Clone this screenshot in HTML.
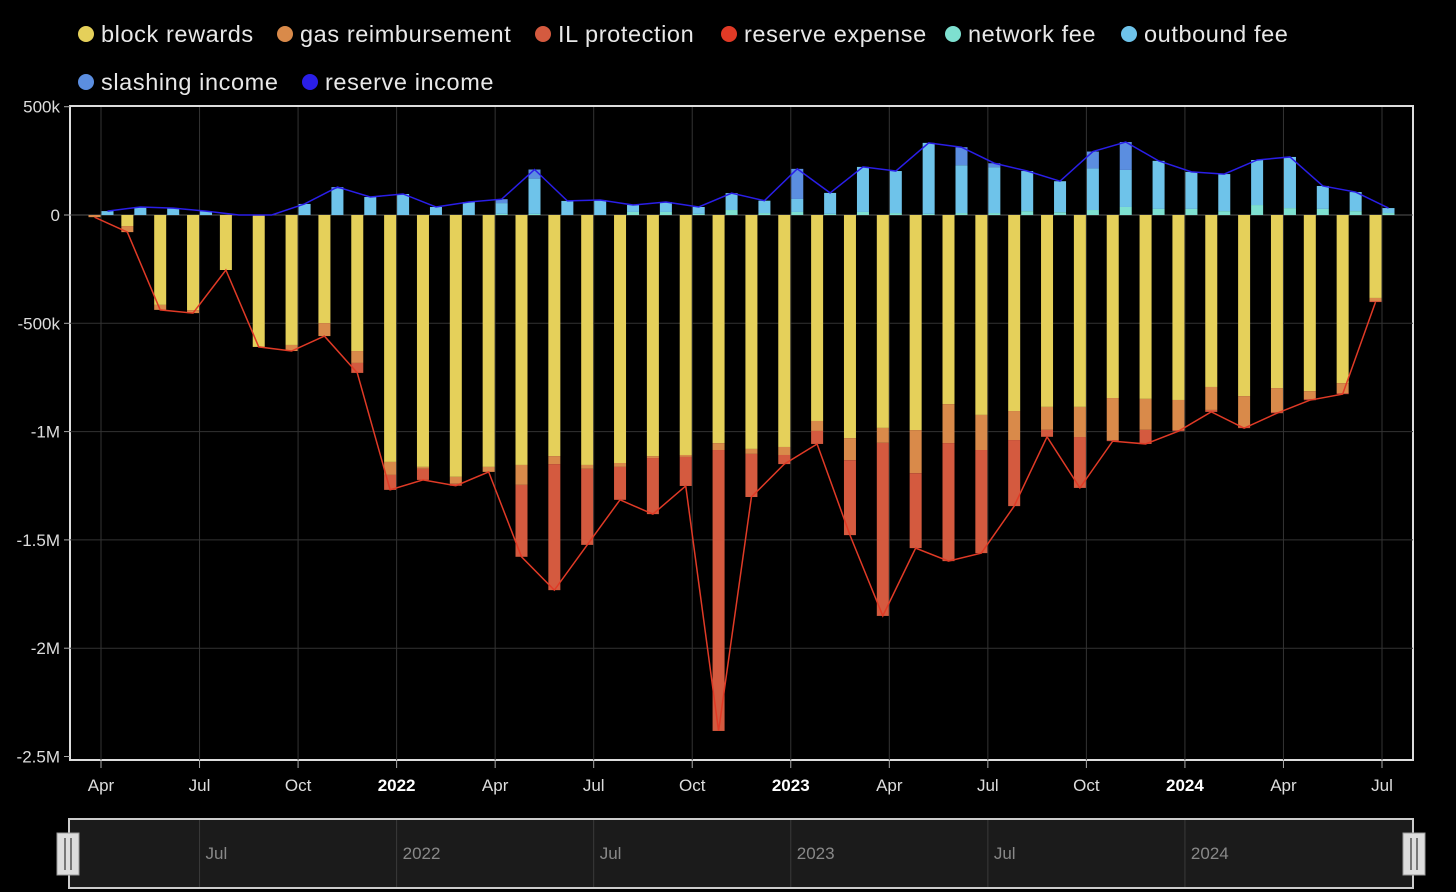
<!DOCTYPE html>
<html><head><meta charset="utf-8"><style>
body{margin:0;background:#000;width:1456px;height:892px;overflow:hidden;font-family:"Liberation Sans",sans-serif}
svg{display:block}
</style></head><body>
<svg id="c" width="1456" height="892" xmlns="http://www.w3.org/2000/svg"></svg>
<script>
const months=['2021-04','2021-05','2021-06','2021-07','2021-08','2021-09','2021-10','2021-11','2021-12','2022-01','2022-02','2022-03','2022-04','2022-05','2022-06','2022-07','2022-08','2022-09','2022-10','2022-11','2022-12','2023-01','2023-02','2023-03','2023-04','2023-05','2023-06','2023-07','2023-08','2023-09','2023-10','2023-11','2023-12','2024-01','2024-02','2024-03','2024-04','2024-05','2024-06','2024-07'];
const blockRewards=[0,51,415,439,254,609,600,499,628,1140,1163,1209,1163,1154,1113,1154,1145,1113,1108,1053,1080,1071,951,1030,983,993,873,923,905,886,886,845,849,854,794,836,799,813,776,383];
const gasReimb=[10,28,23,14,0,0,28,60,55,60,9,32,23,92,37,18,18,9,9,32,23,37,46,102,69,199,180,162,134,106,139,194,143,139,106,143,111,37,46,14];
const ilProtection=[0,0,0,0,0,0,0,0,46,69,51,9,0,332,582,351,152,259,134,1297,199,42,60,346,799,346,545,476,305,32,235,5,65,5,9,5,5,5,5,5];
const reserveExpense=[0,0,0,0,0,0,0,0,0,0,0,0,0,0,0,0,0,0,0,0,0,0,0,0,0,0,0,0,0,0,0,0,0,0,0,0,0,0,0,0];
const networkFee=[0,0,0,0,0,0,0,0,0,0,0,0,5,5,0,0,14,14,5,23,9,14,5,14,9,5,9,9,18,13,23,37,28,28,18,46,32,28,18,9];
const outboundFee=[18,37,32,18,0,0,51,120,83,97,37,60,50,163,65,69,32,46,32,78,57,60,97,208,194,328,221,212,185,143,192,171,222,171,171,208,236,106,88,23];
const slashingIncome=[0,0,0,0,0,0,0,9,0,0,0,0,18,42,0,0,0,0,0,0,0,139,0,0,0,0,83,18,0,0,78,129,0,0,0,0,0,0,0,0];
const yTicks=[500,0,-500,-1000,-1500,-2000,-2500];
const yTickLabels=['500k','0','-500k','-1M','-1.5M','-2M','-2.5M'];
const xTickIdx=[0,3,6,9,12,15,18,21,24,27,30,33,36,39];
const xTickLabels=['Apr','Jul','Oct','2022','Apr','Jul','Oct','2023','Apr','Jul','Oct','2024','Apr','Jul'];

const svg=document.getElementById('c');const NS='http://www.w3.org/2000/svg';
function el(t,a,p){const e=document.createElementNS(NS,t);for(const k in a)e.setAttribute(k,a[k]);(p||svg).appendChild(e);return e;}
const X0=70,X1=1413,Y0=106,Y1=760;
const xs=i=>101+i*(1382-101)/39;
const ys=v=>215-v*0.2166;
// legend
const legend=[['block rewards','#e5d05a',86,34],['gas reimbursement','#d98a4a',285,34],['IL protection','#d45a3f',543,34],['reserve expense','#e03a26',729,34],['network fee','#7ee0d0',953,34],['outbound fee','#6ec3ea',1129,34],['slashing income','#5b8ee0',86,82],['reserve income','#2a1ee8',310,82]];
legend.forEach(l=>{const g=el('g',{});


el('circle',{cx:l[2],cy:l[3],r:8,fill:l[1]},g);
const t=el('text',{x:l[2]+15,y:l[3]+8,fill:'#e8e8e8','font-size':23.5,'letter-spacing':0.6},g);t.textContent=l[0];});
// grid
el('rect',{x:X0,y:Y0,width:X1-X0,height:Y1-Y0,fill:'#000',stroke:'#ddd','stroke-width':2,});
yTicks.forEach((v,k)=>{const y=ys(v);
if(k>0&&k<yTicks.length-1)el('line',{x1:X0,x2:X1,y1:y,y2:y,stroke:'#333','stroke-width':1});
el('line',{x1:X0-6,x2:X0,y1:y,y2:y,stroke:'#aaa'});
const t=el('text',{x:X0-10,y:y+6,fill:'#ddd','font-size':17,'text-anchor':'end'});


t.textContent=yTickLabels[k];});
xTickIdx.forEach((i,k)=>{const x=xs(i);
el('line',{x1:x,x2:x,y1:Y0+1,y2:Y1,stroke:'#333'});
el('line',{x1:x,x2:x,y1:Y1,y2:Y1+8,stroke:'#aaa'});
const b=/^\d{4}$/.test(xTickLabels[k]);
const t=el('text',{x:x,y:791,fill:b?'#fff':'#ddd','font-size':17,'font-weight':b?'bold':'normal','text-anchor':'middle'});


t.textContent=xTickLabels[k];});
el('line',{x1:X0,x2:X1,y1:ys(0),y2:ys(0),stroke:'#555'});
// bars
const BW=12;
function stack(series,colors,sign,off,name){const tops=[];
months.forEach((m,i)=>{let acc=0;const x=xs(i)+off-BW/2;
series.forEach((s,j)=>{const v=s[i];if(v<=0)return;
const a=ys(sign*acc),b=ys(sign*(acc+v));
const r=el('rect',{x:x,y:Math.min(a,b),width:BW,height:Math.abs(b-a),fill:colors[j]});


acc+=v;});
tops.push([xs(i)+off,ys(sign*acc)]);});return tops;}
const neg=stack([blockRewards,gasReimb,ilProtection,reserveExpense],['#e5d05a','#d98a4a','#d45a3f','#e03a26'],-1,-6.5,['block-rewards','gas-reimbursement','il-protection','reserve-expense']);
const pos=stack([networkFee,outboundFee,slashingIncome],['#7ee0d0','#6ec3ea','#5b8ee0'],1,6.5,['network-fee','outbound-fee','slashing-income']);
const l1=el('polyline',{points:neg.map(p=>p.join(',')).join(' '),fill:'none',stroke:'#e03a26','stroke-width':1.5});


const l2=el('polyline',{points:pos.map(p=>p.join(',')).join(' '),fill:'none',stroke:'#2a1ee8','stroke-width':1.5});


// slider
const sl=el('rect',{x:69,y:819,width:1344,height:69,fill:'#1b1b1b',stroke:'#ccc','stroke-width':2});


const slLabels=['Jul','2022','Jul','2023','Jul','2024'];
[3,9,15,21,27,33].forEach((i,k)=>{const x=xs(i);el('line',{x1:x,x2:x,y1:820,y2:887,stroke:'#3a3a3a'});
const t=el('text',{x:x+6,y:859,fill:'#888','font-size':17});t.textContent=slLabels[k];});
[68,1414].forEach((x,k)=>{const g=el('g',{});


el('rect',{x:x-11,y:833,width:22,height:42,fill:'#ddd',stroke:'#999'},g);
el('line',{x1:x-3,x2:x-3,y1:838,y2:870,stroke:'#555','stroke-width':1.5},g);
el('line',{x1:x+3,x2:x+3,y1:838,y2:870,stroke:'#555','stroke-width':1.5},g);});
</script>
</body></html>
